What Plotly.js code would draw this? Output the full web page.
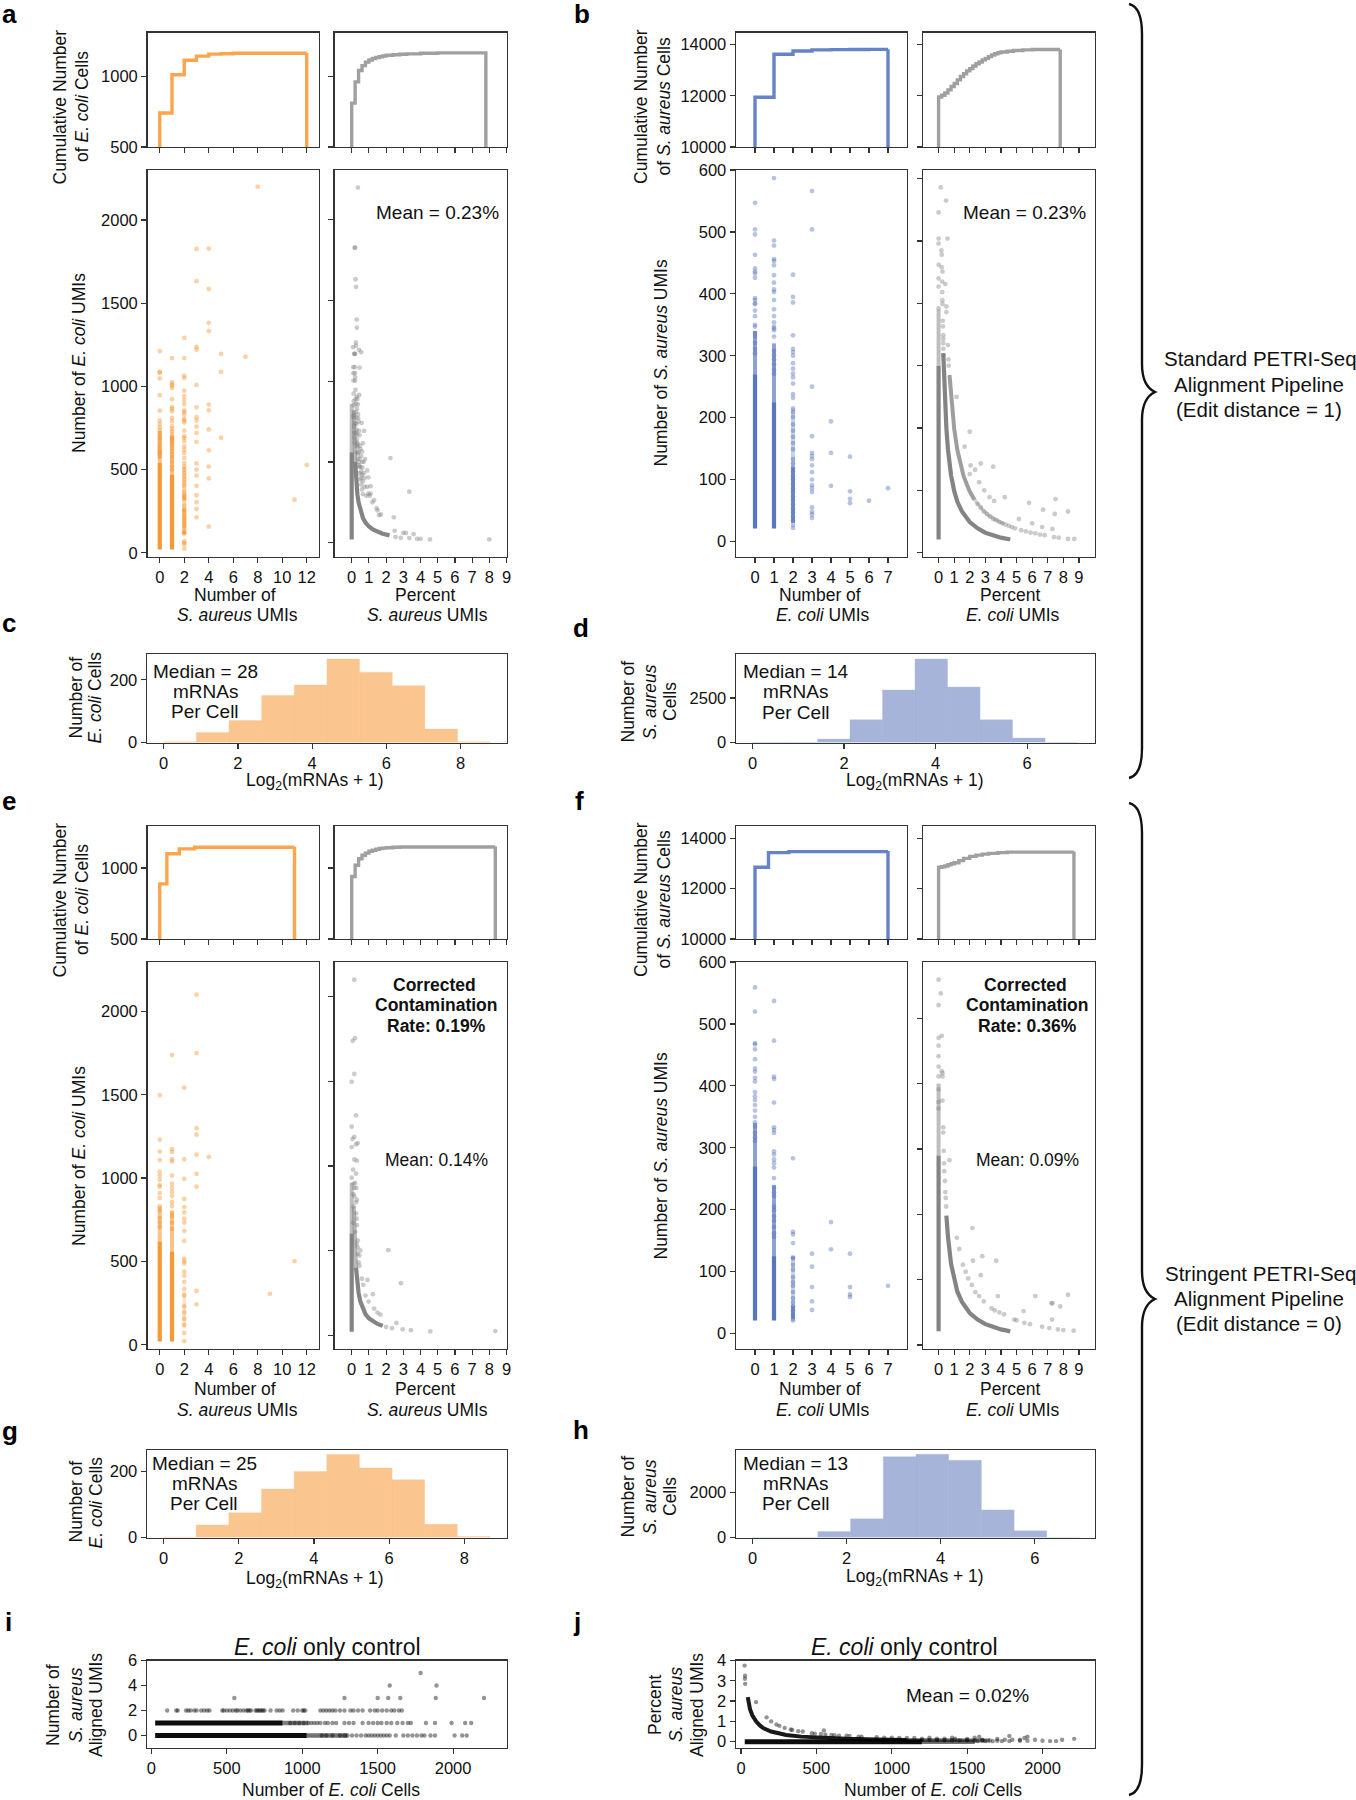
<!DOCTYPE html>
<html><head><meta charset="utf-8">
<script src="https://cdn.plot.ly/plotly-3.0.1.min.js"></script>
<style>html,body{margin:0;padding:0;background:#fff}</style></head>
<body><div id="chart" style="width:1356px;height:1800px"></div>
<script>
// ---------- panel a ----------
const aStepLX=[0,0,1,2,3,4,5,6,12,12];
const aStepLY=[0,740,1011,1113,1142,1156,1159,1162,1165,0];
const aStepRX=[0,0,.2,.4,.6,.8,1,1.2,1.4,1.6,1.8,2,2.4,2.8,3.2,4,5,7.8,7.8];
const aStepRY=[0,810,960,1040,1075,1100,1115,1125,1132,1138,1143,1148,1152,1155,1158,1162,1165,1165,0];
const aBand0=[20,540], aBand1=[20,470], aBand2=[110,270];
const aSoft0=[540,730], aSoft1=[470,700], aSoft2=[270,520];
const aN0=[1212,1087,1082,1048,947,854,795,775,755,738,722,705,690,675,655,640,622,610,600,590,575];
const aN1=[1170,1026,1012,1004,990,923,876,865,850,810,790,760,745,730,715,700,690,680,665,650,630,610,590,570,545,520,500];
const aN2=[1291,1170,1065,1050,974,942,918,893,856,845,830,805,795,783,734,700,690,670,640,620,600,570,540,520,500,480,460,440,420,400,370,350,340,330,320,285,260,245,220,200,180,160,125,115,70,60,50,25];
const aN3=[1826,1632,1237,1220,1009,874,815,795,758,721,667,537,500,464,402,346,304,263,213];
const aN4=[1828,1585,1382,1332,891,856,741,616,518,447,157];
const aN5=[1195,1087,692], aN7=[1178], aN8=[2200], aN11=[319], aN12=[528];
const aPctBand0=[[0,20],[0,560]];
const aPctSoft0=[[0,560],[0,860]];
const aPctBand1=[[.2,500],[.25,400],[.33,300],[.4,250],[.5,200],[.66,150],[.8,125],[1,100],[1.25,80],[1.5,66],[1.8,55],[2.2,45]];
const aPctSoft1=[[.12,820],[.14,720],[.17,600],[.2,500]];
const aPct=[[.36,2200],[.2,1828],[.17,1828],[.22,1632],[.25,1585],[.29,1382],[.3,1332],[.24,1240],[.08,1212],[.25,1220],[.17,1170],[.2,1170],[.14,1170],[.42,1195],[.55,1180],[.09,1087],[.18,1087],[.18,1050],[.46,1085],[.1,1050],[.2,1026],[.2,1004],[.1,1004],[.22,947],[.11,923],[.44,915],[.3,905],[.22,890],[.33,890],[.12,876],[.36,856],[.25,860],[.12,850],[.3,830],[.25,810],[.37,795],[.38,770],[.13,790],[.26,775],[.28,735],[.4,750],[.58,741],[.14,720],[.28,700],[.43,692],[.72,692],[.15,680],[.3,670],[.45,665],[.15,650],[.32,620],[.65,616],[.16,620],[.48,600],[.34,590],[.5,580],[.6,565],[.36,550],[.55,537],[2.25,524],[.78,518],[.7,500],[.6,500],[.4,500],[.45,470],[.62,464],[.9,447],[.7,430],[.55,402],[.75,400],[.97,405],[.75,346],[1.1,350],[.9,346],[3.35,316],[.97,304],[1.1,304],[.85,290],[1.3,263],[1.2,250],[1.05,290],[1.45,213],[1.5,200],[1.7,175],[1.6,170],[2.45,157],[.1,780],[.2,740],[.25,680],[.3,640],[.35,610],[.4,560],[.45,520],[.5,470],[.55,440],[.6,420],[.65,380],[.28,600],[.3,560],[.35,520],[.4,480],[.45,430],[.5,390],[.55,360],[.6,330],[.65,300],[2.5,73],[2.55,35],[2.85,30],[3,60],[3.15,60],[3.35,28],[3.6,53],[3.8,23],[4,23],[4.55,20],[8,20]];
// ---------- panel b ----------
const bStepLX=[0,0,1,2,3,4,5,6,7,7];
const bStepLY=[0,11940,13620,13750,13790,13800,13805,13810,13815,0];
const bStepRX=[0,0,.2,.4,.6,.8,1,1.2,1.4,1.6,1.8,2,2.2,2.4,2.6,2.8,3,3.2,3.4,3.6,3.8,4,4.4,4.8,5.4,6,7.8,7.8];
const bStepRY=[0,11950,12020,12110,12230,12360,12480,12620,12750,12860,12970,13060,13160,13250,13320,13400,13460,13530,13590,13640,13680,13710,13740,13770,13790,13805,13810,0];
const bBand0=[21,270], bBand1=[21,225], bBand2=[30,120];
const bSoft0=[270,340], bSoft1=[225,320], bSoft2=[120,215];
const bN0=[547,504,496,463,441,436,433,426,393,390,385,383,373,364,350,347,337,331,321,311,304];
const bN1=[587,486,478,456,453,446,430,418,407,403,390,375,364,354,347,344,341,331,308,301,294,286,278,271];
const bN2=[431,395,386,333,311,306,300,288,279,271,265,255,238,232,215,209,201,189,179,169,159,149,133,126,119,113,106,100,93,86,80,73,67,60,53,47,40,34,27,22];
const bN3=[566,504,250,170,143,138,133,123,112,100,91,86,80,55,48,44,38];
const bN4=[194,143,90], bN5=[137,81,69,62], bN6=[66], bN7=[86];
const bPctBand0=[[0,21],[0,300]];
const bPctSoft0=[[0,300],[0,390]];
const bPctBand1=[[.3,320],[.35,285],[.4,249],[.5,199],[.6,166],[.8,124],[1,99],[1.2,82],[1.5,66],[2,49],[2.5,39],[3,32],[3.5,28],[4,24],[4.6,21]];
const bPctBand2=[[.7,285],[.8,249],[.9,220],[1,199],[1.2,165],[1.4,141],[1.6,123],[1.8,110],[2,98],[2.3,85]];
const bPctSoft2=[[2.3,85],[2.6,75],[2.9,67],[3.2,60],[3.6,54],[4.2,46]];
const bPct=[[.14,586],[.48,565],[0,546],[0,504],[.57,504],[0,496],[.18,485],[.2,478],[0,462],[.2,458],[.25,451],[0,440],[.23,435],[.43,431],[0,427],[.23,418],[.24,405],[.5,395],[.25,399],[.5,386],[0,392],[.27,372],[.28,363],[.3,349],[.3,343],[.3,336],[.6,333],[.31,327],[.32,317],[.63,310],[.65,300],[1.15,250],[2,194],[1.67,170],[2.05,140],[2.7,143],[3.5,138],[2.35,133],[2,126],[2.6,113],[2.93,100],[3.27,89],[3.56,83],[4.25,89],[5.8,80],[7.5,86],[6.7,69],[7.45,62],[8.3,66],[5.15,54],[6,47],[6.64,41],[7.3,38],[7.4,25],[7.7,24],[8.3,22],[8.7,22],[2.5,78],[2.7,72],[2.9,66],[3.1,62],[3.3,58],[3.5,54],[3.7,52],[3.9,49],[4.1,47],[4.3,45],[4.5,43],[4.7,41],[4.9,39],[5.3,36],[5.6,34],[5.9,32],[6.2,31],[6.5,29],[6.8,28]];
// ---------- panel c, d histograms ----------
const cEdges=[0,.88,1.76,2.64,3.52,4.4,5.28,6.16,7.04,7.92];
const cCounts=[2,32,70,150,183,266,224,181,43,2];
const dEdges=[0,.71,1.42,2.13,2.84,3.55,4.26,4.97,5.68,6.39];
const dCounts=[10,10,190,1270,2940,4680,3106,1270,246,10];
// ---------- panel e ----------
const eStepLX=[0,0,.58,1.6,2.85,11,11];
const eStepLY=[0,888,1100,1135,1146,1150,0];
const eStepRX=[0,0,.2,.4,.6,.8,1,1.2,1.4,1.6,1.8,2,2.4,2.8,8.35,8.35];
const eStepRY=[0,940,1020,1065,1090,1105,1118,1125,1132,1137,1140,1143,1146,1148,1152,0];
const eBand0=[20,620], eBand1=[20,560];
const eSoft0=[620,830], eSoft1=[560,800], eSoft2=[100,320];
const eN0=[1498,1230,1159,1108,1039,1015,990,958,948,909,880,831,806,762,733,708];
const eN1=[1738,1174,1157,1113,1100,1015,966,941,917,892,855,831,794,770,733,696];
const eN2=[1542,1113,995,875,826,794,757,733,684,623,517,500,488,439,414,377,336,297,230,194,157,120,71,22];
const eN3=[2100,1750,1299,1260,1140,1025,948,323,243];
const eN4=[1127], eN9=[306], eN11=[502];
const ePctBand0=[[0,20],[0,600]];
const ePctSoft0=[[0,600],[0,900]];
const ePctBand1=[[.25,400],[.33,300],[.4,250],[.5,200],[.66,150],[.8,124],[1,99],[1.25,79],[1.5,66],[1.8,55]];
const ePctSoft1=[[.12,760],[.14,700],[.2,500],[.25,400]];
const ePct=[[.15,2100],[.19,1755],[.06,1739],[.15,1543],[0,1497],[.25,1299],[0,1232],[.15,1171],[.05,1159],[.35,1135],[.25,1127],[0,1111],[.15,1038],[.3,1031],[.08,978],[.25,954],[0,930],[.1,894],[.27,870],[.1,833],[.25,785],[.1,761],[.29,688],[.08,664],[.2,900],[.15,870],[.3,800],[.15,820],[.25,720],[.3,650],[.2,610],[.35,560],[.35,519],[.5,500],[.45,470],[.3,540],[.35,480],[.4,430],[.45,410],[2.13,502],[2.86,307],[.6,333],[.92,326],[.67,297],[.8,234],[1.23,242],[.98,198],[1.3,157],[1.5,133],[1.67,121],[2.6,72],[2.34,41],[2,48],[2.96,34],[3.44,29],[4.57,22],[8.35,24]];
// ---------- panel f ----------
const fStepLX=[0,0,.71,1.78,7,7];
const fStepLY=[0,12850,13430,13470,13490,0];
const fStepRX=[0,0,.2,.4,.6,.8,1,1.3,1.6,2,2.4,2.8,3.2,3.8,4.4,8.68,8.68];
const fStepRY=[0,12850,12870,12900,12950,12990,13030,13110,13200,13280,13330,13370,13400,13430,13450,13470,0];
const fBand0=[21,270], fBand1=[21,125], fBand2=[24,45];
const fSoft0=[270,340], fSoft1=[125,240], fSoft2=[45,125];
const fN0=[559,520,469,467,459,443,428,423,413,407,390,383,377,369,360,350,341,334,324,317,311];
const fN1=[537,473,415,411,373,333,329,324,294,289,281,275,268,251,235,228,222,205,199,189,182,172,162,156];
const fN2=[283,164,160,146,123,121,111,103,91,83,77,67,57,50,44,37,30,24,21];
const fN3=[129,108,75,52,38], fN4=[180,136], fN5=[129,75,63,59], fN7=[77];
const fPctBand0=[[0,21],[0,290]];
const fPctSoft0=[[0,290],[0,400]];
const fPctBand1=[[.5,198],[.6,166],[.8,124],[1,99],[1.2,82],[1.5,66],[2,49],[2.5,39],[3,32],[3.5,28],[4,24],[4.6,21]];
const fPct=[[0,559],[.14,538],[0,520],[0,470],[.2,473],[0,458],[0,442],[0,426],[.2,419],[.25,416],[0,411],[.25,411],[0,391],[0,372],[.25,374],[0,362],[.3,333],[.3,325],[.33,297],[.7,283],[.35,278],[.36,266],[.41,251],[.43,234],[.46,225],[.48,212],[1.17,164],[1.33,147],[1.56,123],[1.74,112],[1.9,102],[2.13,92],[2.36,81],[2.6,75],[2.9,67],[3.4,56],[3.6,53],[3.9,50],[4.2,47],[4.85,39],[5,38],[5.5,34],[5.86,32],[6.64,28],[7.1,26],[7.65,24],[8,23],[8.66,22],[2.17,179],[2.2,129],[2.8,136],[3.7,129],[2.7,107],[3.8,75],[6.2,75],[7.24,64],[7.3,64],[8.3,77],[7.8,59],[5.45,52],[7.28,39]];
// ---------- panel g, h histograms ----------
const gEdges=[0,.868,1.736,2.604,3.472,4.34,5.208,6.076,6.944,7.812];
const gCounts=[1,38,75,147,200,252,211,175,40,3];
const hEdges=[0,.695,1.39,2.085,2.78,3.475,4.17,4.865,5.56,6.255];
const hCounts=[4,4,267,830,3600,3704,3437,1230,296,4];
// ---------- panel i ----------
const iBand0=[25,1030], iBand1=[25,870];
const iSoft0=[1030,1300], iSoft1=[870,1040];
const iY0=[1130,1160,1200,1250,1280,1300,1330,1360,1390,1420,1440,1460,1480,1500,1520,1540,1560,1580,1620,1670,1700,1730,1760,1790,1810,1850,1880,2010,2060,2090];
const iY1=[920,950,980,1010,1040,1060,1080,1100,1120,1150,1170,1200,1225,1280,1310,1340,1400,1440,1470,1500,1525,1560,1590,1630,1665,1700,1720,1820,1880,1990,2080,2120];
const iY2=[105,165,175,230,245,260,285,300,330,350,370,385,470,480,500,520,540,560,570,590,610,630,640,650,660,690,700,710,720,730,740,750,790,830,850,870,940,970,1000,1010,1020,1120,1140,1160,1180,1200,1220,1250,1280,1320,1340,1370,1400,1450,1480,1500,1530,1560,1590,1610,1640,1660];
const iY3=[550,1280,1500,1570,1650,1885,2205];
const iY4=[1580,1890], iY5=[1785];
// ---------- panel j ----------
const jBand0=[[25,0],[1200,0]];
const jSoft0=[[1200,0],[1550,0]];
const jBand1=[[45,2.2],[50,1.96],[60,1.6],[75,1.3],[100,1],[125,.8],[150,.66],[200,.5],[250,.4],[300,.33],[400,.25],[500,.2],[700,.14],[900,.11],[1100,.09]];
const jSoft1=[[1100,.09],[1300,.08],[1500,.07],[1650,.06]];
const jPct=[[24,3.75],[27,3.25],[26,3.1],[28,2.85],[100,1.95],[170,1.2],[200,1],[235,.85],[255,.78],[290,.68],[330,.6],[340,.58],[380,.52],[410,.5],[470,.42],[490,.4],[530,.38],[550,.55],[560,.35],[600,.33],[620,.32],[650,.3],[700,.29],[720,.28],[780,.25],[800,.25],[900,.22],[950,.2],[1000,.2],[1050,.18],[1100,.18],[1150,.18],[1200,.15],[1250,.2],[1300,.15],[1350,.15],[1400,.2],[1420,.15],[1500,.13],[1550,.2],[1600,.1],[1580,.25],[1780,.28],[1900,.25],[1880,.18],[1700,.13],[1750,.1],[1800,.1],[1850,.1],[1950,.1],[2000,.05],[2050,.03],[2090,.03],[2130,.1],[2210,.14],[1900,.05],[1850,.05],[1700,.05],[1650,.06],[1600,.06],[1200,.08],[1250,.08],[1300,.08],[1350,.07],[1400,.07],[1450,.07],[1500,.07],[1550,.06],[1570,.03],[1620,.03],[1670,.03],[1730,.03],[1780,.03]];

// tick lists
const ticksEven=[0,2,4,6,8,10,12], ticks0to9=[0,1,2,3,4,5,6,7,8,9], ticks0to7=[0,1,2,3,4,5,6,7];
const FONT='"Liberation Sans", Arial, sans-serif';
const ORANGE='#f58f22', BLUE='#4a6ab6', GREY='#7d7d7d';
const W=1356,H=1800,TS=17.5;
const traces=[], annotations=[], layout={};
let axisN=0;
function panel(box,xr,yr,xt,yt,showX,showY){
  axisN++;
  const s=axisN===1?'':axisN;
  const base={showgrid:false,zeroline:false,showline:true,mirror:true,linecolor:'#333',linewidth:1.4,ticks:'outside',ticklen:5,tickwidth:1.2,tickcolor:'#333',tickfont:{family:FONT,size:16.5,color:'#111'},fixedrange:true,tickmode:'array',automargin:false};
  layout['xaxis'+s]=Object.assign({},base,{domain:[box[0]/W,box[2]/W],range:xr,tickvals:xt,ticktext:xt.map(String),showticklabels:showX,anchor:'y'+s});
  layout['yaxis'+s]=Object.assign({},base,{domain:[1-box[3]/H,1-box[1]/H],range:yr,tickvals:yt,ticktext:yt.map(String),showticklabels:showY,anchor:'x'+s});
  return {x:'x'+s,y:'y'+s};
}
function step(ax,xs,ys,color){traces.push({type:'scatter',mode:'lines',xaxis:ax.x,yaxis:ax.y,x:xs,y:ys,line:{shape:'hv',width:3.4,color:color},hoverinfo:'skip',showlegend:false});}
function dots(ax,xs,ys,color,size,op){traces.push({type:'scatter',mode:'markers',xaxis:ax.x,yaxis:ax.y,x:xs,y:ys,marker:{size:size||4.8,color:color,opacity:op||.4,line:{width:0}},hoverinfo:'skip',showlegend:false});}
function col(ax,xv,ys,color,size,op){dots(ax,ys.map(()=>xv),ys,color,size,op);}
function row(ax,yv,xs,color,size,op){dots(ax,xs,xs.map(()=>yv),color,size,op);}
function pairs(ax,p,color,size,op){dots(ax,p.map(q=>q[0]),p.map(q=>q[1]),color,size,op);}
function ridge(ax,p,color,w,op){traces.push({type:'scatter',mode:'lines',xaxis:ax.x,yaxis:ax.y,x:p.map(q=>q[0]),y:p.map(q=>q[1]),line:{width:w||4.2,color:color},opacity:op||.95,hoverinfo:'skip',showlegend:false});}
function band(ax,xv,b,color,w,op){ridge(ax,[[xv,b[0]],[xv,b[1]]],color,w||4.2,op||.92);}
function bars(ax,edges,counts,bw,rgba,edge){traces.push({type:'bar',xaxis:ax.x,yaxis:ax.y,x:edges,y:counts,width:edges.map(()=>bw),offset:0,marker:{color:rgba,line:{color:edge,width:.6}},hoverinfo:'skip',showlegend:false});}
function txt(px,py,text,size,rot,color){annotations.push({xref:'paper',yref:'paper',x:px/W,y:1-py/H,text:text,showarrow:false,xanchor:'center',yanchor:'middle',textangle:rot||0,font:{family:FONT,size:size||TS,color:color||'#111'},align:'center',borderpad:0});}
function letter(px,py,t){txt(px,py,'<b>'+t+'</b>',26,0,'#000');}

const xL=[147.5,319], xR=[334.5,506.5], xLb=[736,907], xRb=[923,1094.5];
const oC='rgba(245,140,30,.5)',oE='rgba(250,205,155,.7)',bC='rgba(76,106,178,.5)',bE='rgba(175,190,222,.7)';
const stepO='#fba54e', stepB='#6583c6', stepG='#a0a0a0';

// a
let p=panel([xL[0],32.5,xL[1],147],[-1,13],[500,1309],ticksEven,[500,1000],false,true); step(p,aStepLX,aStepLY,stepO);
p=panel([xR[0],32.5,xR[1],147],[-1,9],[500,1309],ticks0to9,[500,1000],false,false); step(p,aStepRX,aStepRY,stepG);
p=panel([xL[0],170,xL[1],557],[-1,13],[-25,2300],ticksEven,[0,500,1000,1500,2000],true,true);
band(p,0,aBand0,ORANGE);band(p,1,aBand1,ORANGE);band(p,2,aBand2,ORANGE,4,.6);
band(p,0,aSoft0,ORANGE,4,.55);band(p,1,aSoft1,ORANGE,4,.55);band(p,2,aSoft2,ORANGE,4,.3);
[[0,aN0],[1,aN1],[2,aN2],[3,aN3],[4,aN4],[5,aN5],[7,aN7],[8,aN8],[11,aN11],[12,aN12]].forEach(c=>col(p,c[0],c[1],ORANGE));
p=panel([xR[0],170,xR[1],557],[-1,9],[-89,2309],ticks0to9,[0,500,1000,1500,2000],true,false);
ridge(p,aPctBand0,GREY);ridge(p,aPctSoft0,GREY,4,.5);ridge(p,aPctBand1,GREY);ridge(p,aPctSoft1,GREY,4,.55);pairs(p,aPct,GREY);
// b
p=panel([xLb[0],32.5,xLb[1],147],[-1,8],[10000,14470],ticks0to7,[10000,12000,14000],false,true); step(p,bStepLX,bStepLY,stepB);
p=panel([xRb[0],32.5,xRb[1],147],[-1,10],[10000,14470],ticks0to9,[10000,12000,14000],false,false); step(p,bStepRX,bStepRY,stepG);
p=panel([xLb[0],170,xLb[1],557],[-1,8],[-25,600],ticks0to7,[0,100,200,300,400,500,600],true,true);
band(p,0,bBand0,BLUE);band(p,1,bBand1,BLUE);band(p,2,bBand2,BLUE,4,.7);
band(p,0,bSoft0,BLUE,4,.62);band(p,1,bSoft1,BLUE,4,.62);band(p,2,bSoft2,BLUE,4,.3);
[[0,bN0],[1,bN1],[2,bN2],[3,bN3],[4,bN4],[5,bN5],[6,bN6],[7,bN7]].forEach(c=>col(p,c[0],c[1],BLUE));
p=panel([xRb[0],170,xRb[1],557],[-1,10],[-7,614],ticks0to9,[0,100,200,300,400,500,600],true,false);
ridge(p,bPctBand0,GREY);ridge(p,bPctSoft0,GREY,4,.5);ridge(p,bPctBand1,GREY);ridge(p,bPctBand2,GREY,4,.75);ridge(p,bPctSoft2,GREY,3.6,.35);pairs(p,bPct,GREY);
// c d
p=panel([147,654,506.5,742.5],[-.45,9.24],[0,282],[0,2,4,6,8],[0,200],true,true); bars(p,cEdges,cCounts,.88,oC,oE);
p=panel([736,654,1094.5,742.5],[-.36,7.47],[0,4962],[0,2,4,6],[0,2500],true,true); bars(p,dEdges,dCounts,.71,bC,bE);
// e
p=panel([xL[0],826,xL[1],939],[-1,13],[500,1296],ticksEven,[500,1000],false,true); step(p,eStepLX,eStepLY,stepO);
p=panel([xR[0],826,xR[1],939],[-1,9],[500,1296],ticks0to9,[500,1000],false,false); step(p,eStepRX,eStepRY,stepG);
p=panel([xL[0],962,xL[1],1349],[-1,13],[-25,2296],ticksEven,[0,500,1000,1500,2000],true,true);
band(p,0,eBand0,ORANGE);band(p,1,eBand1,ORANGE);band(p,0,eSoft0,ORANGE,4,.55);band(p,1,eSoft1,ORANGE,4,.55);band(p,2,eSoft2,ORANGE,3.6,.25);
[[0,eN0],[1,eN1],[2,eN2],[3,eN3],[4,eN4],[9,eN9],[11,eN11]].forEach(c=>col(p,c[0],c[1],ORANGE));
p=panel([xR[0],962,xR[1],1349],[-1,9],[-82,2205],ticks0to9,[0,500,1000,1500,2000],true,false);
ridge(p,ePctBand0,GREY);ridge(p,ePctSoft0,GREY,4,.5);ridge(p,ePctBand1,GREY);ridge(p,ePctSoft1,GREY,4,.55);pairs(p,ePct,GREY);
// f
p=panel([xLb[0],826,xLb[1],939],[-1,8],[10000,14486],ticks0to7,[10000,12000,14000],false,true); step(p,fStepLX,fStepLY,stepB);
p=panel([xRb[0],826,xRb[1],939],[-1,10],[10000,14486],ticks0to9,[10000,12000,14000],false,false); step(p,fStepRX,fStepRY,stepG);
p=panel([xLb[0],962,xLb[1],1349],[-1,8],[-25,600],ticks0to7,[0,100,200,300,400,500,600],true,true);
band(p,0,fBand0,BLUE);band(p,1,fBand1,BLUE);band(p,2,fBand2,BLUE,4,.7);band(p,0,fSoft0,BLUE,4,.62);band(p,1,fSoft1,BLUE,4,.62);band(p,2,fSoft2,BLUE,4,.3);
[[0,fN0],[1,fN1],[2,fN2],[3,fN3],[4,fN4],[5,fN5],[7,fN7]].forEach(c=>col(p,c[0],c[1],BLUE));
p=panel([xRb[0],962,xRb[1],1349],[-1,10],[-6,586],ticks0to9,[0,100,200,300,400,500],true,false);
ridge(p,fPctBand0,GREY);ridge(p,fPctSoft0,GREY,4,.5);ridge(p,fPctBand1,GREY);pairs(p,fPct,GREY);
// g h
p=panel([147,1450,506.5,1537.5],[-.44,9.12],[0,265.6],[0,2,4,6,8],[0,200],true,true); bars(p,gEdges,gCounts,.868,oC,oE);
p=panel([736,1450,1095,1537.5],[-.35,7.28],[0,3896],[0,2,4,6],[0,2000],true,true); bars(p,hEdges,hCounts,.695,bC,bE);
// i j
p=panel([147,1660.5,506.5,1748],[-29,2354],[-1,6],[0,500,1000,1500,2000],[0,2,4,6],true,true);
ridge(p,[[iBand0[0],0],[iBand0[1],0]],'#000',5,.95);ridge(p,[[iBand1[0],1],[iBand1[1],1]],'#000',5,.95);
ridge(p,[[iSoft0[0],0],[iSoft0[1],0]],'#000',4.4,.55);ridge(p,[[iSoft1[0],1],[iSoft1[1],1]],'#000',4.4,.5);
[[0,iY0],[1,iY1],[2,iY2],[3,iY3],[4,iY4],[5,iY5]].forEach(r=>row(p,r[0],r[1],'#000',4.4,.42));
p=panel([736,1660.5,1095,1748],[-33,2348],[-.31,4],[0,500,1000,1500,2000],[0,1,2,3,4],true,true);
ridge(p,jBand0,'#000',5,.95);ridge(p,jSoft0,'#000',4.4,.55);ridge(p,jBand1,'#000',4,.9);ridge(p,jSoft1,'#000',4,.5);pairs(p,jPct,'#000',4.4,.42);

// text: panels a, b, e, f
function upper(ox,oy,cumY,mainY,t1,t2,t3,xa,xb){
  txt(ox+59.5,cumY,'Cumulative Number',TS,-90);
  txt(ox+82,cumY,t1,TS,-90);
  txt(ox+79,mainY,t2,TS,-90);
  txt(xa,oy,'Number of',TS);txt(xa+3,oy+20.5,t3,TS);
  txt(xb,oy,'Percent',TS);txt(xb+2.5,oy+20.5,t3,TS);
}
upper(0,595,107,363,'of <i>E. coli</i> Cells','Number of <i>E. coli</i> UMIs','<i>S. aureus</i> UMIs',234.5,425);
upper(581.5,595,107,363,'of <i>S. aureus</i> Cells','Number of <i>S. aureus</i> UMIs','<i>E. coli</i> UMIs',820,1010);
upper(0,1389,900,1156,'of <i>E. coli</i> Cells','Number of <i>E. coli</i> UMIs','<i>S. aureus</i> UMIs',234.5,425);
upper(581.5,1389,900,1156,'of <i>S. aureus</i> Cells','Number of <i>S. aureus</i> UMIs','<i>E. coli</i> UMIs',820,1010);
txt(437,213,'Mean = 0.23%',19);txt(1024,213,'Mean = 0.23%',19);
txt(434,985,'<b>Corrected</b>',TS);txt(436.5,1005.5,'<b>Contamination</b>',TS);txt(436.5,1026,'<b>Rate: 0.19%</b>',TS);
txt(436.5,1160,'Mean: 0.14%',TS);
txt(1025,985,'<b>Corrected</b>',TS);txt(1027.5,1005.5,'<b>Contamination</b>',TS);txt(1027.5,1026,'<b>Rate: 0.36%</b>',TS);
txt(1027.5,1160,'Mean: 0.09%',TS);
// hist text
const log2Label='Log<sub>2</sub>(mRNAs + 1)';
txt(315,781,log2Label,TS);txt(915,781,log2Label,TS);txt(315,1579,log2Label,TS);txt(915,1577,log2Label,TS);
txt(75.5,698,'Number of',TS,-90);txt(94.5,698,'<i>E. coli</i> Cells',TS,-90);
txt(627.5,702,'Number of',TS,-90);txt(649.5,702,'<i>S. aureus</i>',TS,-90);txt(670,702,'Cells',TS,-90);
txt(75.5,1502,'Number of',TS,-90);txt(95.5,1502,'<i>E. coli</i> Cells',TS,-90);
txt(627.5,1497,'Number of',TS,-90);txt(649.5,1497,'<i>S. aureus</i>',TS,-90);txt(670,1497,'Cells',TS,-90);
txt(205,672,'Median = 28',19);txt(205,691,'mRNAs',19);txt(205,711,'Per Cell',19);
txt(796,672,'Median = 14',19);txt(796,692,'mRNAs',19);txt(796,712,'Per Cell',19);
txt(204,1463,'Median = 25',19);txt(204,1483,'mRNAs',19);txt(204,1503,'Per Cell',19);
txt(796,1463,'Median = 13',19);txt(796,1483,'mRNAs',19);txt(796,1503,'Per Cell',19);
// i j text
txt(327,1647,'<i>E. coli</i> only control',23);txt(905,1647,'<i>E. coli</i> only control',23);
txt(53,1705,'Number of',TS,-90);txt(75.5,1705,'<i>S. aureus</i>',TS,-90);txt(96,1705,'Aligned UMIs',TS,-90);
txt(655,1705,'Percent',TS,-90);txt(676,1705,'<i>S. aureus</i>',TS,-90);txt(697,1705,'Aligned UMIs',TS,-90);
txt(331,1790,'Number of <i>E. coli</i> Cells',TS);txt(932.5,1790,'Number of <i>E. coli</i> Cells',TS);
txt(967,1695,'Mean = 0.02%',19);
// letters
letter(9,14,'a');letter(582,14,'b');letter(9,623,'c');letter(581,628,'d');letter(9,801,'e');letter(579,801,'f');letter(10,1431,'g');letter(581,1430,'h');letter(8,1622,'i');letter(577,1622,'j');
// side labels
txt(1260,359,'Standard PETRI-Seq',20.5);txt(1259,384,'Alignment Pipeline',20.5);txt(1259,410,'(Edit distance = 1)',20.5);
txt(1260,1273,'Stringent PETRI-Seq',20.5);txt(1259,1298,'Alignment Pipeline',20.5);txt(1259,1323,'(Edit distance = 0)',20.5);
// braces
function brace(top,mid,bot){
  const X=v=>(v/W).toFixed(5),Y=v=>(1-v/H).toFixed(5);
  const a=1129,b=1142,c=1155;
  const path='M '+X(a)+' '+Y(top)+' Q '+X(b)+' '+Y(top+3)+' '+X(b)+' '+Y(top+30)+' L '+X(b)+' '+Y(mid-28)+' Q '+X(b)+' '+Y(mid-6)+' '+X(c)+' '+Y(mid)+' Q '+X(b)+' '+Y(mid+6)+' '+X(b)+' '+Y(mid+28)+' L '+X(b)+' '+Y(bot-30)+' Q '+X(b)+' '+Y(bot-3)+' '+X(a)+' '+Y(bot);
  return {type:'path',xref:'paper',yref:'paper',path:path,line:{color:'#111',width:2.4}};
}
layout.shapes=[brace(4,392,778),brace(803,1299,1795)];
layout.annotations=annotations;
Object.assign(layout,{width:W,height:H,margin:{l:0,r:0,t:0,b:0,pad:0},paper_bgcolor:'#fff',plot_bgcolor:'#fff',showlegend:false,font:{family:FONT,size:16,color:'#111'},bargap:0,barmode:'overlay'});
Plotly.newPlot('chart',traces,layout,{displayModeBar:false,staticPlot:true,responsive:false});
</script></body></html>
